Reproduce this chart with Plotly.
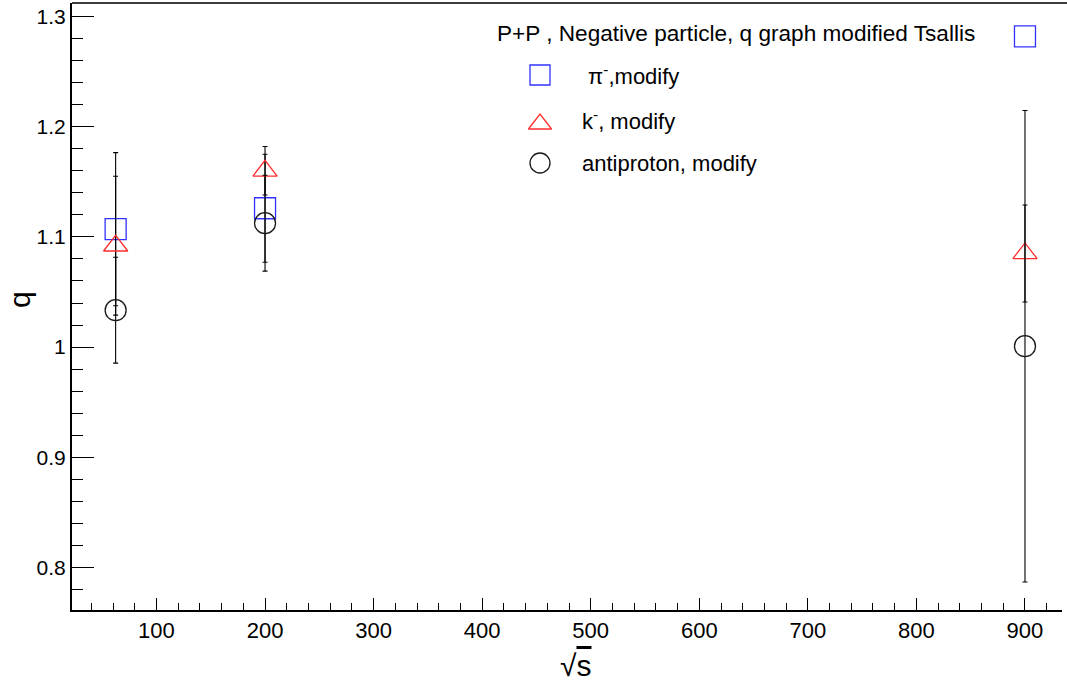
import numpy as np
import plotly.graph_objects as go

# ---- data ----
energies = [62.4, 200, 900]
pion_q = [1.107, 1.126, 1.282]
pion_err = [0.0695, 0.049, np.nan]   # no error bar drawn at 900 GeV
kaon_q = [1.092, 1.160, 1.085]
kaon_err = [0.063, 0.022, 0.044]
pbar_q = [1.0335, 1.1125, 1.0008]
pbar_err = [0.048, 0.0435, 0.214]

header = "P+P , Negative particle, q graph modified Tsallis"
labels = [" π<sup>-</sup>,modify", "k<sup>-</sup>, modify", "antiproton, modify"]

FONT = "Liberation Sans, Arial, sans-serif"
BLUE = "rgb(50,50,255)"
RED = "rgb(255,45,45)"
BLACK = "rgb(25,25,25)"

# plot frame in pixels
W, H = 1067, 682
L, R, T, B = 72, 1062, 3, 610
def px(x):
    return (x - L) / (R - L)
def py(y):
    return (B - y) / (B - T)

fig = go.Figure()

def add_series(y, err, symbol, color, name):
    fig.add_trace(go.Scatter(
        x=energies, y=y, mode="markers", name=name,
        marker=dict(symbol=symbol, size=21, color=color,
                    line=dict(color=color, width=1.3)),
        error_y=dict(type="data", array=np.array(err, dtype=float), visible=True,
                     color="black", thickness=1.1, width=2.5),
        showlegend=False, cliponaxis=False,
    ))

add_series(pion_q, pion_err, "square-open", BLUE, "pi")
add_series(kaon_q, kaon_err, "triangle-up-open", RED, "k")
add_series(pbar_q, pbar_err, "circle-open", BLACK, "pbar")

# legend symbols on an overlay axis in pixel units
leg_x = [540, 540, 540]
leg_y = [75, 120, 163]
leg_sym = ["square-open", "triangle-up-open", "circle-open"]
leg_col = [BLUE, RED, BLACK]
for i in range(3):
    fig.add_trace(go.Scatter(
        x=[leg_x[i]], y=[leg_y[i] + (4 if leg_sym[i].startswith("triangle") else 0)],
        xaxis="x2", yaxis="y2", mode="markers", showlegend=False,
        marker=dict(symbol=leg_sym[i], size=20, color=leg_col[i],
                    line=dict(color=leg_col[i], width=1.3)),
        hoverinfo="skip",
    ))

annotations = [
    dict(x=px(495), y=py(33), xref="paper", yref="paper", text=header, showarrow=False,
         xanchor="left", yanchor="middle", font=dict(family=FONT, size=22.6, color="black")),
]
for i in range(3):
    annotations.append(dict(x=px(580), y=py(leg_y[i]), xref="paper", yref="paper", text=labels[i],
                            showarrow=False, xanchor="left", yanchor="middle",
                            font=dict(family=FONT, size=22, color="black")))
annotations.append(dict(x=px(19), y=py(300), xref="paper", yref="paper", text="q", showarrow=False,
                        textangle=-90, xanchor="center", yanchor="middle",
                        font=dict(family=FONT, size=30, color="black")))
annotations.append(dict(x=px(575), y=py(665), xref="paper", yref="paper",
                        text="√<span style='text-decoration:overline'>s</span>",
                        showarrow=False, xanchor="center", yanchor="middle",
                        font=dict(family=FONT, size=30, color="black")))

fig.update_layout(
    width=W, height=H,
    margin=dict(l=L, r=W - R, t=T, b=H - B, autoexpand=False),
    paper_bgcolor="white", plot_bgcolor="white",
    font=dict(family=FONT, size=21, color="black"),
    xaxis=dict(range=[22.2, 934.1], tickmode="linear", tick0=0, dtick=100,
               ticks="inside", ticklen=12, tickwidth=1, tickcolor="black",
               minor=dict(dtick=20, ticks="inside", ticklen=7, tickwidth=1, tickcolor="black"),
               showline=True, linewidth=2, linecolor="black", automargin=False,
               showgrid=False, zeroline=False, tickfont=dict(size=22)),
    yaxis=dict(range=[0.7614, 1.3123], tickmode="linear", tick0=0, dtick=0.1,
               ticks="inside", ticklen=22, tickwidth=1, tickcolor="black",
               minor=dict(dtick=0.02, ticks="inside", ticklen=11, tickwidth=1, tickcolor="black"),
               showline=True, linewidth=2, linecolor="black", automargin=False,
               showgrid=False, zeroline=False, tickfont=dict(size=21)),
    xaxis2=dict(range=[L, R], overlaying="x", visible=False, fixedrange=True),
    yaxis2=dict(range=[B, T], overlaying="y", visible=False, fixedrange=True),
    annotations=annotations,
    shapes=[dict(type="line", xref="paper", yref="paper", x0=0, x1=px(W), y0=1, y1=1,
                 line=dict(color="rgb(60,60,60)", width=2))],
    showlegend=False,
)

fig.write_html("out.html", config={"displayModeBar": False},
               post_script="document.body.style.margin='0';")
